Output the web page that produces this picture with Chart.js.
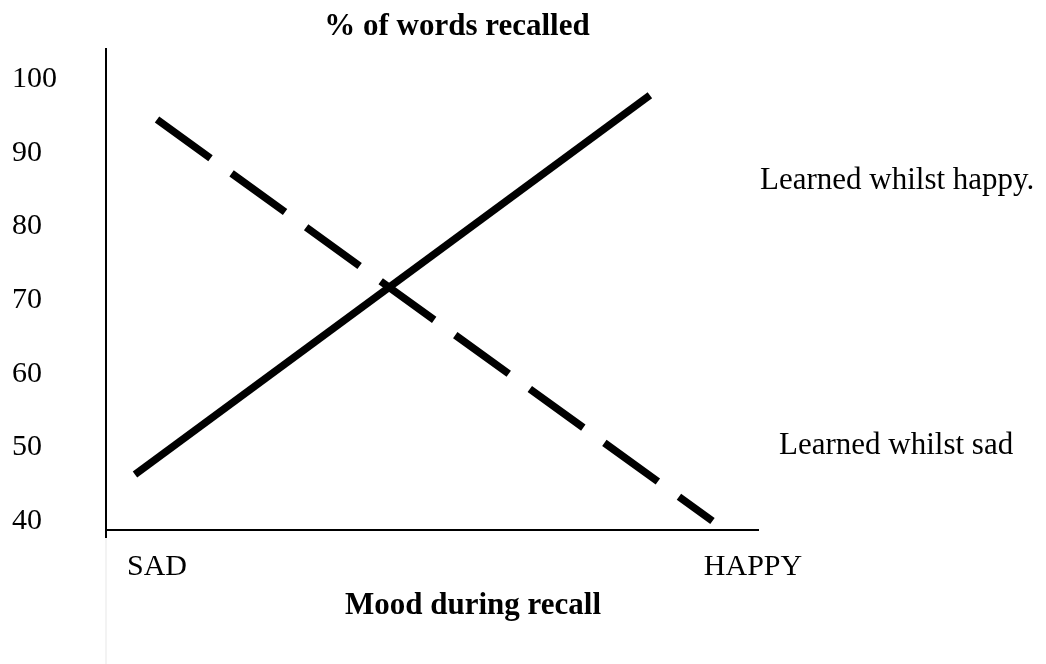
<!DOCTYPE html>
<html>
<head>
<meta charset="utf-8">
<title>% of words recalled</title>
<script src="https://cdn.jsdelivr.net/npm/chart.js@4/dist/chart.umd.min.js"></script>
<style>
  html, body { margin: 0; padding: 0; background: #fff; }
  #wrap { width: 1046px; height: 664px; }
</style>
</head>
<body>
<div id="wrap"><canvas id="moodChart" width="1046" height="664"></canvas></div>
<script>
// ===================================
// data
// ===================================
const moodLabels = ['SAD', 'HAPPY'];          // x = 0, x = 1
const yTicks = [40, 50, 60, 70, 80, 90, 100];

// learned whilst happy (solid)
const happyX = [-0.037, 0.827];
const happyY = [46.3, 97.8];

// learned whilst sad (dashed)
const sadX = [0, 0.932];
const sadY = [94.5, 40];

const SERIF = '"Liberation Serif", "Times New Roman", serif';

function points(xs, ys) {
  return xs.map((x, i) => ({x: x, y: ys[i]}));
}

// ===================================
// free text: titles and line labels
// ===================================
const textLayer = {
  id: 'textLayer',
  afterDraw(chart) {
    const ctx = chart.ctx;
    const a = chart.chartArea;
    ctx.save();
    ctx.fillStyle = '#000';
    ctx.textBaseline = 'middle';

    ctx.font = 'bold 31px ' + SERIF;
    ctx.textAlign = 'center';
    ctx.fillText('% of words recalled', 457, 27);
    ctx.fillText('Mood during recall', 473, a.bottom + 76);

    ctx.font = '31px ' + SERIF;
    ctx.textAlign = 'left';
    ctx.fillText('Learned whilst happy.', a.right + 2, 181);
    ctx.fillText('Learned whilst sad', a.right + 21, 446);

    // y axis runs on past the x axis, then a faint trace to the bottom
    ctx.fillStyle = '#000';
    ctx.fillRect(a.left - 1, a.bottom, 2, 8);
    ctx.fillStyle = '#f3f3f3';
    ctx.fillRect(a.left - 1, a.bottom + 8, 2, chart.height - a.bottom - 8);
    ctx.restore();
  }
};

new Chart(document.getElementById('moodChart'), {
  type: 'line',
  data: {
    datasets: [
      {
        label: 'Learned whilst happy.',
        data: points(happyX, happyY),
        borderColor: '#000',
        borderWidth: 7.5,
        borderCapStyle: 'butt',
        pointRadius: 0,
        tension: 0
      },
      {
        label: 'Learned whilst sad',
        data: points(sadX, sadY),
        borderColor: '#000',
        borderWidth: 7.5,
        borderDash: [66, 26],
        borderCapStyle: 'butt',
        pointRadius: 0,
        tension: 0
      }
    ]
  },
  options: {
    responsive: false,
    animation: false,
    devicePixelRatio: 1,
    layout: { padding: { left: 12, top: 49, right: 288, bottom: 0 } },
    plugins: {
      legend: { display: false },
      tooltip: { enabled: false },
      title: { display: false }
    },
    scales: {
      x: {
        type: 'linear',
        min: -0.0856,
        max: 1.0084,
        afterBuildTicks: s => { s.ticks = moodLabels.map((l, i) => ({value: i})); },
        afterFit: s => { s.height = 134; },
        grid: { display: true, drawOnChartArea: false, drawTicks: false },
        border: { display: true, color: '#000', width: 2 },
        ticks: {
          color: '#000',
          font: { family: SERIF, size: 30 },
          padding: 19,
          maxRotation: 0,
          callback: v => moodLabels[v]
        }
      },
      y: {
        type: 'linear',
        min: 38.78,
        max: 104.07,
        afterBuildTicks: s => { s.ticks = yTicks.map(v => ({value: v})); },
        afterFit: s => { s.width = 94; },
        grid: { display: true, drawOnChartArea: false, drawTicks: false },
        border: { display: true, color: '#000', width: 2 },
        ticks: {
          color: '#000',
          font: { family: SERIF, size: 30 },
          crossAlign: 'far',
          padding: 10
        }
      }
    }
  },
  plugins: [textLayer]
});
</script>
</body>
</html>
